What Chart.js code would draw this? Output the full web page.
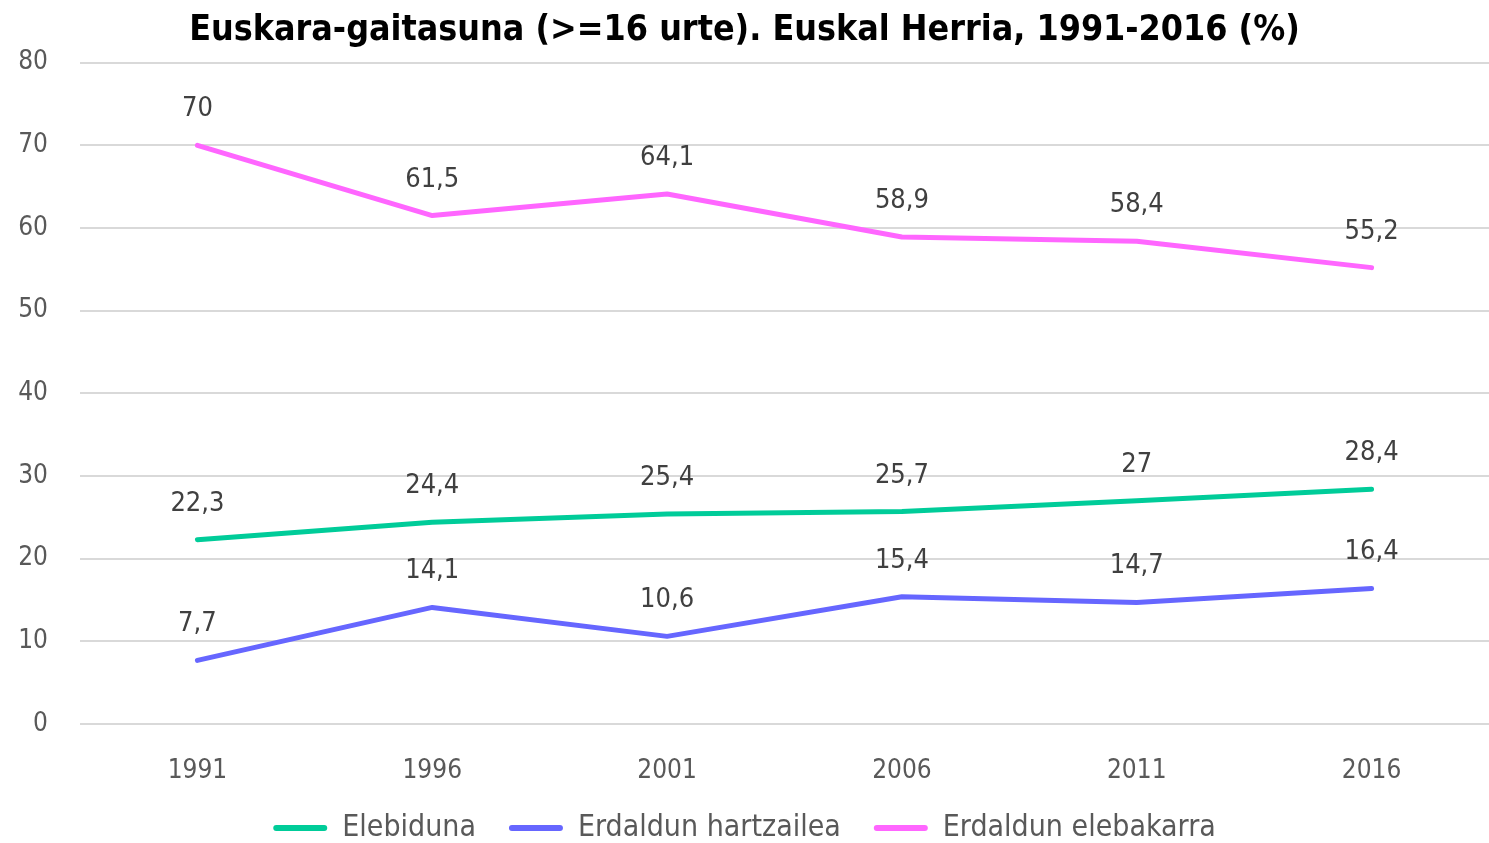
<!DOCTYPE html>
<html lang="eu">
<head>
    <meta charset="UTF-8">
    <title>Euskara-gaitasuna</title>
    <script src="https://cdn.jsdelivr.net/npm/chart.js"></script>
    <style>
        body {
            margin: 0;
            background: #fff;
        }
        #wrap {
            width: 1489px;
            height: 843px;
        }
    </style>
</head>
<body>
    <div id="wrap"><canvas id="chart"></canvas></div>

    <script>
        // Data
        const years = ['1991', '1996', '2001', '2006', '2011', '2016'];
        const seriesNames = ['Elebiduna', 'Erdaldun hartzailea', 'Erdaldun elebakarra'];
        const elebiduna = [22.3, 24.4, 25.4, 25.7, 27, 28.4];
        const hartzailea = [7.7, 14.1, 10.6, 15.4, 14.7, 16.4];
        const elebakarra = [70, 61.5, 64.1, 58.9, 58.4, 55.2];
        const colors = ['#00CC99', '#6666FF', '#FF66FF'];

        const FONT = '"DejaVu Sans Condensed", "Liberation Sans Narrow", sans-serif';

        // simple value labels above each point (comma decimals)
        const pointLabels = {
            id: 'pointLabels',
            afterDatasetsDraw(chart) {
                const ctx = chart.ctx;
                ctx.save();
                ctx.font = '27px ' + FONT;
                ctx.fillStyle = '#404040';
                ctx.textAlign = 'center';
                ctx.textBaseline = 'middle';
                chart.data.datasets.forEach((ds, i) => {
                    chart.getDatasetMeta(i).data.forEach((pt, j) => {
                        const txt = String(ds.data[j]).replace('.', ',');
                        ctx.fillText(txt, pt.x, pt.y - 36);
                    });
                });
                ctx.restore();
            }
        };

        const allSeries = [elebiduna, hartzailea, elebakarra];

        new Chart(document.getElementById('chart'), {
            type: 'line',
            data: {
                labels: years,
                datasets: allSeries.map((vals, i) => ({
                    label: seriesNames[i],
                    data: vals,
                    borderColor: colors[i],
                    backgroundColor: colors[i],
                    borderWidth: 5,
                    borderCapStyle: 'round',
                    borderJoinStyle: 'round',
                    pointRadius: 0,
                    tension: 0
                }))
            },
            options: {
                responsive: true,
                maintainAspectRatio: false,
                animation: false,
                layout: {
                    padding: { left: 0, right: 0, top: 9, bottom: 0 }
                },
                plugins: {
                    title: {
                        display: true,
                        text: 'Euskara-gaitasuna (>=16 urte). Euskal Herria, 1991-2016 (%)',
                        color: '#000',
                        font: { family: FONT, size: 35.5, weight: 'bold' },
                        padding: { top: 0, bottom: 11 }
                    },
                    legend: {
                        position: 'bottom',
                        maxHeight: 63,
                        labels: {
                            color: '#595959',
                            font: { family: FONT, size: 30 },
                            boxWidth: 54,
                            boxHeight: 6,
                            useBorderRadius: true,
                            borderRadius: 3,
                            padding: 33,
                            generateLabels(chart) {
                                return Chart.defaults.plugins.legend.labels.generateLabels(chart)
                                    .map(item => ({ ...item, lineWidth: 0 }));
                            }
                        }
                    },
                    tooltip: { enabled: false }
                },
                scales: {
                    x: {
                        offset: true,
                        grid: { display: false },
                        border: { display: false },
                        ticks: {
                            color: '#595959',
                            font: { family: FONT, size: 26 },
                            padding: 24
                        },
                        afterFit(scale) {
                            scale.height = 56;
                        }
                    },
                    y: {
                        min: 0,
                        max: 80,
                        grid: { color: '#d9d9d9', lineWidth: 2, drawTicks: false },
                        border: { display: false },
                        ticks: {
                            stepSize: 10,
                            color: '#595959',
                            font: { family: FONT, size: 26 },
                            padding: 32
                        },
                        afterFit(scale) {
                            scale.width = 80;
                        }
                    }
                }
            },
            plugins: [pointLabels]
        });
    </script>
</body>
</html>
